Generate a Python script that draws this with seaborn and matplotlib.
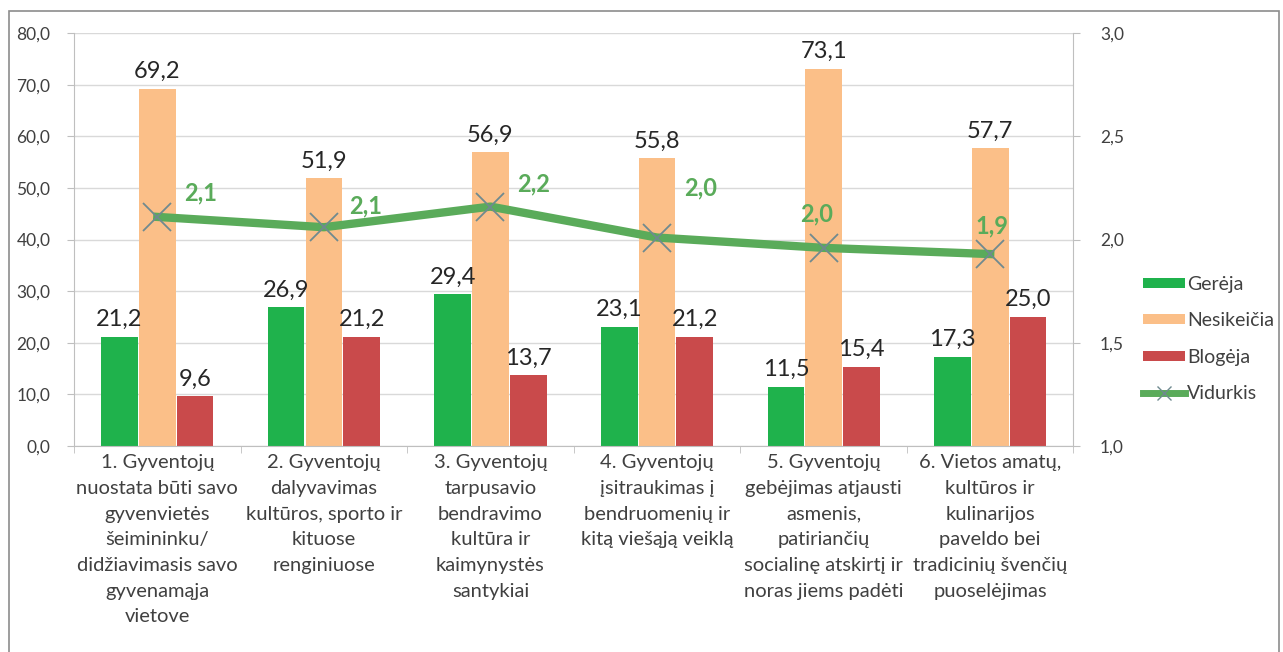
import matplotlib
import matplotlib.pyplot as plt
import numpy as np
import pandas as pd
import seaborn as sns
from matplotlib.lines import Line2D
from matplotlib.patches import Patch, Rectangle

matplotlib.use("Agg")

KATEGORIJOS = [
    "1. Gyventojų\nnuostata būti savo\ngyvenvietės\nšeimininku/\ndidžiavimasis savo\ngyvenamąja\nvietove",
    "2. Gyventojų\ndalyvavimas\nkultūros, sporto ir\nkituose\nrenginiuose",
    "3. Gyventojų\ntarpusavio\nbendravimo\nkultūra ir\nkaimynystės\nsantykiai",
    "4. Gyventojų\nįsitraukimas į\nbendruomenių ir\nkitą viešąją veiklą",
    "5. Gyventojų\ngebėjimas atjausti\nasmenis,\npatiriančių\nsocialinę atskirtį ir\nnoras jiems padėti",
    "6. Vietos amatų,\nkultūros ir\nkulinarijos\npaveldo bei\ntradicinių švenčių\npuoselėjimas",
]
SERIJOS = ["Gerėja", "Nesikeičia", "Blogėja"]
GEREJA = [21.2, 26.9, 29.4, 23.1, 11.5, 17.3]
NESIKEICIA = [69.2, 51.9, 56.9, 55.8, 73.1, 57.7]
BLOGEJA = [9.6, 21.2, 13.7, 21.2, 15.4, 25.0]
VIDURKIS = [2.11, 2.06, 2.16, 2.01, 1.96, 1.93]

# vidurkio etikečių poslinkiai (kategorija, dešinės ašies vienetai)
ETIK_DX = [0.26, 0.25, 0.26, 0.26, -0.04, 0.01]
ETIK_DY = [0.115, 0.105, 0.11, 0.24, 0.165, 0.135]

ZALIA = "#1fb24c"
ORANZINE = "#fbbf88"
RAUDONA = "#c94a4b"
LINIJA = "#5aab5a"
TEKSTAS = "#262626"
PILKA = "#404040"

plt.rcParams["font.family"] = ["Lato", "DejaVu Sans"]

df = pd.DataFrame({
    "kat": np.repeat(np.arange(len(KATEGORIJOS)), 3),
    "serija": SERIJOS * len(KATEGORIJOS),
    "reiksme": [v for trio in zip(GEREJA, NESIKEICIA, BLOGEJA) for v in trio],
})

fig = plt.figure(figsize=(12.83, 6.52), dpi=100)
fig.patch.set_facecolor("white")
fig.patches.append(Rectangle((0.007, -0.01), 0.99, 0.993, transform=fig.transFigure,
                             fill=False, edgecolor="#8c8c8c", linewidth=1.2))
ax = fig.add_axes([0.0577, 0.316, 0.779, 0.633])

sns.barplot(data=df, x="kat", y="reiksme", hue="serija", hue_order=SERIJOS,
            palette=[ZALIA, ORANZINE, RAUDONA], saturation=1, width=0.68, gap=0.03,
            edgecolor="none", ax=ax, legend=False)

# verčių etiketės virš stulpelių
for cont in ax.containers:
    for b in cont:
        h = b.get_height()
        ax.text(b.get_x() + b.get_width() / 2, h + 1.3, f"{h:.1f}".replace(".", ","),
                ha="center", va="bottom", fontsize=17, color=TEKSTAS)

ax.set_ylim(0, 80)
ax.set_xlim(-0.5, len(KATEGORIJOS) - 0.5)
ax.set_yticks(np.arange(0, 81, 10))
ax.set_yticklabels([f"{v:.1f}".replace(".", ",") for v in np.arange(0, 81, 10)],
                   fontsize=12.5, color=PILKA)
ax.yaxis.grid(True, color="#d9d9d9", linewidth=1)
ax.set_axisbelow(True)
ax.set_xticks(range(len(KATEGORIJOS)))
ax.set_xticklabels(KATEGORIJOS, fontsize=14.5, color=PILKA, linespacing=1.62)
ax.tick_params(axis="x", length=0, pad=6)
ax.set_xticks(np.arange(-0.5, len(KATEGORIJOS)), minor=True)
ax.tick_params(axis="x", which="minor", length=5, color="#bfbfbf")
ax.tick_params(axis="y", length=5, color="#bfbfbf", pad=12)
ax.set_xlabel("")
ax.set_ylabel("")
for s in ["top", "right"]:
    ax.spines[s].set_visible(False)
for s in ["left", "bottom"]:
    ax.spines[s].set_color("#bfbfbf")

ax2 = ax.twinx()
sns.lineplot(x=np.arange(len(KATEGORIJOS)), y=VIDURKIS, ax=ax2, color=LINIJA,
             linewidth=6, marker="x", markersize=20, markeredgewidth=1.3,
             markeredgecolor="#6f8a8f", legend=False)
for i, v in enumerate(VIDURKIS):
    ax2.text(i + ETIK_DX[i], v + ETIK_DY[i], f"{v:.1f}".replace(".", ","),
             ha="center", va="center", fontsize=17, color=LINIJA, fontweight="bold")
ax2.set_ylim(1.0, 3.0)
ax2.set_yticks(np.arange(1.0, 3.01, 0.5))
ax2.set_yticklabels([f"{v:.1f}".replace(".", ",") for v in np.arange(1.0, 3.01, 0.5)],
                    fontsize=12.5, color=PILKA)
ax2.tick_params(axis="y", length=5, color="#bfbfbf", pad=14)
for s in ["top", "left", "bottom"]:
    ax2.spines[s].set_visible(False)
ax2.spines["right"].set_color("#bfbfbf")

rankenos = [Patch(facecolor=ZALIA), Patch(facecolor=ORANZINE), Patch(facecolor=RAUDONA),
            Line2D([0], [0], color=LINIJA, linewidth=5, marker="x", markersize=10,
                   markeredgecolor="#6f8a8f")]
fig.legend(rankenos, SERIJOS + ["Vidurkis"], loc="center left",
           bbox_to_anchor=(0.877, 0.48), frameon=False, fontsize=14,
           handlelength=2.2, handleheight=0.4, labelspacing=1.0, handletextpad=0.1,
           labelcolor=PILKA)

fig.savefig("out.png", dpi=100, facecolor="white")
plt.close(fig)
